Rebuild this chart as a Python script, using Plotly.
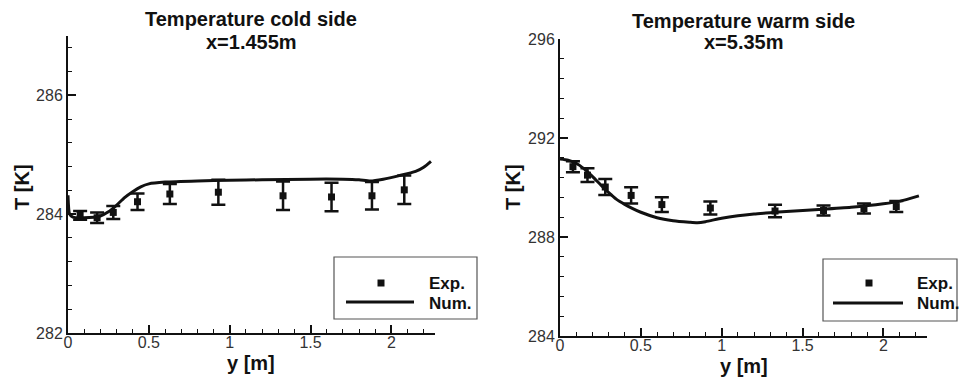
import plotly.graph_objects as go

# ---------------- data ----------------
cold_exp_y = [0.075, 0.18, 0.28, 0.43, 0.63, 0.93, 1.33, 1.63, 1.88, 2.08]
cold_exp_T = [283.98, 283.94, 284.03, 284.21, 284.34, 284.37, 284.31, 284.29, 284.31, 284.41]
cold_exp_err = [0.075, 0.09, 0.11, 0.14, 0.17, 0.21, 0.24, 0.24, 0.23, 0.24]

cold_num_y = [0.0, 0.01, 0.03, 0.1, 0.2, 0.25, 0.3, 0.35, 0.4, 0.45, 0.5, 0.6, 0.8,
              1.0, 1.2, 1.5, 1.7, 1.8, 1.87, 1.95, 2.05, 2.15, 2.2, 2.245]
cold_num_T = [284.32, 284.0, 283.95, 283.94, 283.97, 284.04, 284.15, 284.28, 284.38,
              284.46, 284.51, 284.54, 284.56, 284.57, 284.58, 284.59, 284.59, 284.58,
              284.56, 284.59, 284.65, 284.72, 284.79, 284.89]

warm_exp_y = [0.08, 0.17, 0.28, 0.44, 0.63, 0.93, 1.33, 1.63, 1.88, 2.08]
warm_exp_T = [290.84, 290.5, 290.02, 289.68, 289.31, 289.17, 289.05, 289.07, 289.15, 289.23]
warm_exp_err = [0.22, 0.28, 0.32, 0.33, 0.3, 0.26, 0.25, 0.2, 0.2, 0.22]

warm_num_y = [0.0, 0.05, 0.1, 0.15, 0.2, 0.25, 0.3, 0.35, 0.4, 0.45, 0.5, 0.6, 0.7,
              0.8, 0.85, 0.9, 1.0, 1.1, 1.2, 1.3, 1.4, 1.6, 1.8, 2.0, 2.1, 2.22]
warm_num_T = [291.15, 291.1, 290.98, 290.75, 290.45, 290.12, 289.8, 289.52, 289.32,
              289.15, 289.0, 288.78, 288.66, 288.6, 288.58, 288.62, 288.76, 288.86,
              288.93, 288.98, 289.03, 289.11, 289.2, 289.34, 289.44, 289.66]

titles = [("Temperature cold side", "x=1.455m"), ("Temperature warm side", "x=5.35m")]
x_title = "y [m]"
y_title = "T [K]"
legend_labels = ["Exp.", "Num."]

W, H = 961, 385
FONT = "Liberation Sans, Arial, sans-serif"
INK = "#111111"

fig = go.Figure()

def px(xp):
    return xp / W

def py(yp):
    return 1 - yp / H

# traces
for (ey, eT, ee, ny, nT, xa, ya) in [
    (cold_exp_y, cold_exp_T, cold_exp_err, cold_num_y, cold_num_T, "x", "y"),
    (warm_exp_y, warm_exp_T, warm_exp_err, warm_num_y, warm_num_T, "x2", "y2"),
]:
    fig.add_trace(go.Scatter(
        x=ny, y=nT, mode="lines", xaxis=xa, yaxis=ya,
        line=dict(color=INK, width=3, shape="spline", smoothing=0.6),
        name=legend_labels[1], showlegend=False))
    fig.add_trace(go.Scatter(
        x=ey, y=eT, mode="markers", xaxis=xa, yaxis=ya,
        marker=dict(symbol="square", size=7, color=INK),
        error_y=dict(type="data", array=ee, visible=True, color=INK, thickness=2.5, width=7),
        name=legend_labels[0], showlegend=False))

# plot areas (pixels)
areas = [(68, 435, 36, 333), (560, 927, 39, 336)]
yranges = [(282, 287, 2, 0.4), (284, 296, 4, 0.8)]

axis_common = dict(
    showgrid=False, zeroline=False, showline=True, linecolor=INK, linewidth=2,
    ticks="inside", ticklen=8, tickwidth=2, tickcolor=INK, automargin=False,
    tickfont=dict(family=FONT, size=16, color="#333333"),
)

layout = dict(
    template="none",
    width=W, height=H, margin=dict(l=0, r=0, t=0, b=0, autoexpand=False),
    paper_bgcolor="white", plot_bgcolor="white", showlegend=False,
)
for i, ((x0, x1, y0, y1), (ylo, yhi, dt, mdt)) in enumerate(zip(areas, yranges)):
    sx = "" if i == 0 else "2"
    layout["xaxis" + sx] = dict(
        axis_common, domain=[px(x0), px(x1)], anchor="y" + sx, range=[0, 2.27],
        tickvals=[0, 0.5, 1, 1.5, 2], ticktext=["0", "0.5", "1", "1.5", "2"],
        ticklabelstandoff=-6,
        minor=dict(dtick=0.1, tick0=0, ticks="inside", ticklen=4, tickwidth=1, tickcolor=INK),
    )
    layout["yaxis" + sx] = dict(
        axis_common, domain=[py(y1), py(y0)], anchor="x" + sx, range=[ylo, yhi],
        tick0=ylo, dtick=dt,
        minor=dict(dtick=mdt, tick0=ylo, ticks="inside", ticklen=4, tickwidth=1, tickcolor=INK),
    )
fig.update_layout(**layout)

ann = []
shapes = []
# titles and axis titles
title_cx = [251, 743.5]
xlab_y = [363, 366]
ylab_x = [22, 513]
for i in range(2):
    ann.append(dict(text="<b>%s</b>" % titles[i][0], x=px(title_cx[i]), y=py(19 if i == 0 else 21),
                    xref="paper", yref="paper", showarrow=False, xanchor="center", yanchor="middle",
                    font=dict(family=FONT, size=20, color=INK)))
    ann.append(dict(text="<b>%s</b>" % titles[i][1], x=px(title_cx[i]), y=py(42),
                    xref="paper", yref="paper", showarrow=False, xanchor="center", yanchor="middle",
                    font=dict(family=FONT, size=20, color=INK)))
    ann.append(dict(text="<b>%s</b>" % x_title, x=px(title_cx[i]), y=py(xlab_y[i]),
                    xref="paper", yref="paper", showarrow=False, xanchor="center", yanchor="middle",
                    font=dict(family=FONT, size=20, color=INK)))
    ann.append(dict(text="<b>%s</b>" % y_title, x=px(ylab_x[i]), y=py(187), textangle=-90,
                    xref="paper", yref="paper", showarrow=False, xanchor="center", yanchor="middle",
                    font=dict(family=FONT, size=20, color=INK)))

# legends (drawn as boxes with sample symbols)
legends = [
    dict(box=(334, 477, 257, 319), mk=(381, 283), ln=(346, 414, 302), tx=(427, 283, 303)),
    dict(box=(823, 957, 259, 321), mk=(869, 283), ln=(833, 903, 303), tx=(915, 283, 303)),
]
for L in legends:
    bx0, bx1, by0, by1 = L["box"]
    shapes.append(dict(type="rect", xref="paper", yref="paper",
                       x0=px(bx0), x1=px(bx1), y0=py(by1), y1=py(by0),
                       line=dict(color="#555555", width=1.2), fillcolor="white", layer="below"))
    mx, my = L["mk"]
    shapes.append(dict(type="rect", xref="paper", yref="paper",
                       x0=px(mx - 3.5), x1=px(mx + 3.5), y0=py(my + 3.5), y1=py(my - 3.5),
                       line=dict(width=0), fillcolor=INK))
    lx0, lx1, ly = L["ln"]
    shapes.append(dict(type="line", xref="paper", yref="paper",
                       x0=px(lx0), x1=px(lx1), y0=py(ly), y1=py(ly),
                       line=dict(color=INK, width=3)))
    tx, ty1, ty2 = L["tx"]
    for lab, ty in zip(legend_labels, (ty1, ty2)):
        ann.append(dict(text="<b>%s</b>" % lab, x=px(tx), y=py(ty), xref="paper", yref="paper",
                        showarrow=False, xanchor="left", yanchor="middle",
                        font=dict(family=FONT, size=17, color=INK)))

fig.update_layout(annotations=ann, shapes=shapes)
fig.write_html("out.html")
